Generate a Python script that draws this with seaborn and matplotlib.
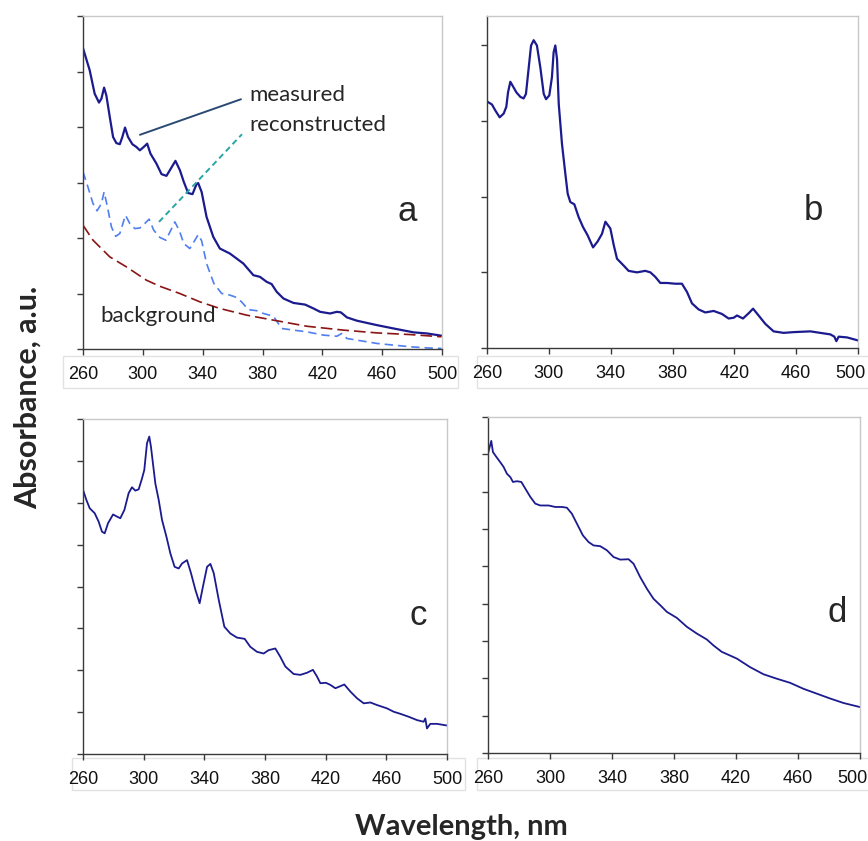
import numpy as np
import pandas as pd
import matplotlib
matplotlib.use("Agg")
import matplotlib.pyplot as plt
from matplotlib.patches import Rectangle
from matplotlib.transforms import ScaledTranslation
import seaborn as sns

# panel a: measured, reconstructed and background spectra
a_meas_nm = [260, 264.5, 267.8, 270.7, 272.3, 274.1, 275.6, 277.9, 280.1, 282.3, 284.6, 286.3,
             288.1, 290.1, 293, 295.7, 298, 300.6, 302.9, 305.1, 309.1, 312.5, 315.8, 318.7,
             321.8, 324.8, 327.4, 330.3, 333.2, 335.9, 337, 339.3, 342.6, 347.1, 351.5, 358.2,
             367.2, 373.9, 378.3, 382.8, 386.1, 389.5, 394, 400.7, 408.5, 414.1, 418.5, 425.2,
             429.7, 432.4, 436.4, 443.1, 456.5, 467.6, 481, 490, 499.6]
a_meas_abs = [5.42, 5.02, 4.6, 4.44, 4.51, 4.71, 4.57, 4.18, 3.82, 3.71, 3.69, 3.82,
              3.99, 3.82, 3.69, 3.64, 3.58, 3.64, 3.70, 3.52, 3.34, 3.15, 3.12, 3.25,
              3.39, 3.22, 3.01, 2.81, 2.79, 2.97, 2.99, 2.83, 2.38, 2.02, 1.81, 1.72,
              1.54, 1.33, 1.30, 1.21, 1.17, 1.03, 0.91, 0.83, 0.80, 0.73, 0.67, 0.64,
              0.67, 0.66, 0.57, 0.51, 0.43, 0.37, 0.30, 0.28, 0.24]

a_rec_nm = [260, 263.3, 266.7, 269.4, 272.3, 274.1, 276.1, 279, 281.9, 284.6, 288.4, 291.3,
            294.6, 298, 301.3, 304.2, 307.3, 311.4, 315.4, 318.7, 321.4, 324.3, 327.4, 331.4,
            334.8, 337, 339.3, 342.6, 347.5, 352.7, 356, 361.6, 366, 370.5, 376.1, 380.6,
            387.3, 392.8, 400.7, 409.6, 420.7, 429.7, 433, 436.4, 445.3, 456.5, 467.6, 478.8,
            490, 499.6]
a_rec_abs = [3.19, 2.92, 2.62, 2.49, 2.62, 2.83, 2.59, 2.20, 2.03, 2.08, 2.41, 2.26,
             2.17, 2.18, 2.26, 2.34, 2.14, 2.01, 1.96, 2.14, 2.29, 2.14, 1.90, 1.81,
             1.96, 2.06, 1.95, 1.54, 1.18, 1.00, 0.99, 0.94, 0.85, 0.71, 0.69, 0.64,
             0.59, 0.37, 0.34, 0.31, 0.25, 0.23, 0.28, 0.19, 0.15, 0.10, 0.07, 0.04,
             0.02, 0.01]

a_bg_nm = [260, 266.7, 277.9, 289, 302.4, 311.4, 324.7, 338.1, 351.5, 369.4, 387.3, 409.6,
           434.1, 456.5, 478.8, 499.6]
a_bg_abs = [2.23, 1.96, 1.66, 1.48, 1.24, 1.13, 1.00, 0.85, 0.73, 0.61, 0.52, 0.41,
            0.34, 0.29, 0.26, 0.22]

# panel b
b_nm = [260, 263.2, 265.4, 268.2, 270.8, 272.5, 273.6, 275.1, 276.8, 279, 281.6, 283.7,
        285.2, 287, 288.5, 290.2, 292.3, 294.5, 296.7, 298.2, 300.3, 302, 303.1, 304.2,
        305.3, 306.4, 308.5, 310.7, 312.2, 313.9, 316.5, 319.3, 322.1, 325.1, 328.6, 331.6,
        334.4, 336.6, 339.8, 342, 344.1, 348.4, 351.6, 357, 362.4, 365.7, 368.9, 372.1,
        376.4, 381.8, 386.1, 389.4, 392.6, 396.9, 401.2, 406.6, 412, 416.3, 419.6, 421.7,
        425.6, 429.3, 432.1, 435.7, 440, 445.4, 451.9, 458.4, 469.2, 475.6, 482.1, 484.7,
        486, 487.5, 492.9, 500]
b_abs = [3.26, 3.22, 3.14, 3.05, 3.10, 3.19, 3.38, 3.52, 3.46, 3.38, 3.32, 3.30,
         3.36, 3.71, 4.00, 4.07, 4.00, 3.71, 3.36, 3.29, 3.34, 3.58, 3.91, 4.00,
         3.82, 3.23, 2.70, 2.30, 2.04, 1.93, 1.90, 1.73, 1.60, 1.49, 1.33, 1.41,
         1.51, 1.67, 1.58, 1.36, 1.18, 1.09, 1.02, 1.00, 1.02, 1.00, 0.94, 0.86,
         0.86, 0.85, 0.85, 0.74, 0.59, 0.51, 0.47, 0.49, 0.45, 0.39, 0.40, 0.43,
         0.39, 0.46, 0.52, 0.43, 0.32, 0.22, 0.20, 0.21, 0.22, 0.20, 0.18, 0.15,
         0.09, 0.15, 0.14, 0.10]

# panel c
c_nm = [260, 262.2, 264.4, 267.7, 270.3, 272.5, 274.3, 276.5, 279.8, 282.4, 284.6, 287.3,
        290.1, 292.3, 294.5, 296.7, 298.9, 300.4, 302.2, 303.7, 304.8, 307.7, 309.9, 312.1,
        315, 317.6, 320.4, 323.1, 325.3, 328.6, 331.2, 334.1, 336.9, 339.1, 341.8, 344,
        346.2, 349.5, 353.2, 357.1, 361.5, 366.6, 370.3, 374.7, 379.1, 382.4, 386.8, 390.1,
        393.4, 398.9, 403.3, 407.7, 411.6, 414.3, 416.5, 420.2, 423.1, 426.4, 429.7, 432.3,
        436.3, 440.7, 445.1, 449.5, 453.8, 460.4, 464.8, 469.2, 474.7, 480.2, 484.6, 485.7,
        486.8, 489, 493.4, 500]
c_abs = [6.31, 6.07, 5.87, 5.75, 5.55, 5.31, 5.27, 5.51, 5.72, 5.67, 5.63, 5.83,
         6.23, 6.37, 6.29, 6.32, 6.58, 6.78, 7.42, 7.58, 7.34, 6.46, 6.07, 5.59,
         5.19, 4.79, 4.47, 4.43, 4.55, 4.63, 4.32, 3.92, 3.60, 4.00, 4.47, 4.54,
         4.32, 3.68, 3.04, 2.88, 2.78, 2.75, 2.56, 2.44, 2.40, 2.48, 2.52, 2.32,
         2.09, 1.91, 1.89, 1.94, 2.01, 1.85, 1.69, 1.70, 1.65, 1.57, 1.62, 1.66,
         1.49, 1.33, 1.21, 1.23, 1.17, 1.09, 1.01, 0.96, 0.89, 0.81, 0.77, 0.85,
         0.61, 0.72, 0.72, 0.68]

# panel d
d_nm = [260, 261.1, 262.1, 263.2, 265.4, 267.9, 270.1, 272.2, 274.4, 276.1, 278.7, 281.5,
        284.1, 287.3, 290.5, 293.7, 299.1, 303.4, 307.7, 310.9, 314.1, 317.4, 321.2, 324.9,
        328.1, 332.4, 336.7, 341, 345.3, 350.7, 353.9, 358.2, 362.5, 366.8, 371.1, 375.4,
        381.8, 388.3, 394.7, 401.2, 405.5, 410.8, 420.5, 429.1, 437.7, 446.3, 454.9, 463.5,
        472.1, 480.7, 489.3, 500]
d_abs = [8.02, 8.20, 8.36, 8.06, 7.93, 7.79, 7.66, 7.48, 7.39, 7.26, 7.28, 7.26,
         7.08, 6.86, 6.68, 6.63, 6.63, 6.59, 6.59, 6.57, 6.41, 6.14, 5.83, 5.65,
         5.56, 5.54, 5.43, 5.25, 5.18, 5.19, 5.07, 4.71, 4.40, 4.13, 3.96, 3.78,
         3.62, 3.38, 3.20, 3.04, 2.88, 2.71, 2.53, 2.30, 2.11, 1.99, 1.88, 1.72,
         1.59, 1.46, 1.34, 1.23]

x_ticks = [260, 300, 340, 380, 420, 460, 500]

NAVY = "#1b1b8f"
LABEL_FONT = ["Lato", "DejaVu Sans"]

sns.set_style("white")
plt.rcParams['font.family'] = ['Liberation Sans', 'DejaVu Sans']

fig = plt.figure(figsize=(8.68, 8.41), dpi=100)
W, H = 868, 841


def px_axes(left, top, right, bottom):
    ax = fig.add_axes([left / W, 1 - bottom / H, (right - left) / W, (bottom - top) / H])
    ax.set_zorder(2)
    return ax


def tick_box(left, top, right, bottom):
    # white strip with a faint border behind the wavelength labels
    fig.patches.append(Rectangle((left / W, 1 - bottom / H), (right - left) / W, (bottom - top) / H,
                                 transform=fig.transFigure, facecolor="white",
                                 edgecolor="#e2e2e2", lw=1.0, zorder=-1))


def style_axes(ax, ymax, nticks, pull_last=False):
    ax.set_xlim(260, 500)
    ax.set_ylim(0, ymax)
    ax.set_xticks(x_ticks)
    ax.set_xticklabels([str(t) for t in x_ticks])
    ax.set_yticks(range(nticks + 1))
    ax.set_yticklabels([])
    ax.set_xlabel("")
    ax.set_ylabel("")
    for side in ["left", "bottom"]:
        ax.spines[side].set_color("#3a3a3a")
        ax.spines[side].set_linewidth(1.0)
    for side in ["top", "right"]:
        ax.spines[side].set_color("#c8c8c8")
        ax.spines[side].set_linewidth(1.0)
    ax.tick_params(axis="both", direction="out", length=4, width=1, color="#3a3a3a",
                   left=True, bottom=True)
    ax.tick_params(axis="x", labelsize=13, pad=8, labelcolor="#111111")
    ax.patch.set_alpha(0)
    if pull_last:
        # keep the last label inside the figure edge
        lab = ax.get_xticklabels()[-1]
        lab.set_horizontalalignment("right")
        lab.set_transform(lab.get_transform() + ScaledTranslation(0.08, 0, fig.dpi_scale_trans))


tick_box(63, 356, 458, 388)
tick_box(477, 356, 870, 388)
tick_box(72, 758, 465, 790)
tick_box(477, 758, 870, 790)

# --- panel a
ax_a = px_axes(83, 16, 442, 349)
sns.lineplot(x=a_meas_nm, y=a_meas_abs, ax=ax_a, color=NAVY, lw=1.6)
sns.lineplot(x=a_rec_nm, y=a_rec_abs, ax=ax_a, color="#4f7ff0", lw=1.2)
ax_a.lines[-1].set_dashes((5, 3))
sns.lineplot(x=a_bg_nm, y=a_bg_abs, ax=ax_a, color="#8b1414", lw=1.2)
ax_a.lines[-1].set_dashes((7, 3))
style_axes(ax_a, 6, 6)
ax_a.plot([298.1, 365.6], [3.86, 4.50], color="#2b4a72", lw=1.4)
ax_a.plot([310.8, 366.3], [2.29, 3.87], color="#2aa5a5", lw=1.4, dashes=(3, 2))
ax_a.text(371, 4.58, "measured", fontsize=16, family=LABEL_FONT, va="center")
ax_a.text(371, 4.04, "reconstructed", fontsize=16, family=LABEL_FONT, va="center")
ax_a.text(271.4, 0.59, "background", fontsize=16, family=LABEL_FONT, va="center")
ax_a.text(477, 2.48, "a", fontsize=25, ha="center", va="center")

# --- panel b
ax_b = px_axes(487, 16, 858, 348)
sns.lineplot(x=b_nm, y=b_abs, ax=ax_b, color=NAVY, lw=1.6)
style_axes(ax_b, 4.39, 4, pull_last=True)
ax_b.text(471, 1.82, "b", fontsize=25, ha="center", va="center")

# --- panel c
ax_c = px_axes(83, 419, 447, 754)
sns.lineplot(x=c_nm, y=c_abs, ax=ax_c, color=NAVY, lw=1.3)
style_axes(ax_c, 8, 8)
ax_c.text(481, 3.3, "c", fontsize=25, ha="center", va="center")

# --- panel d
ax_d = px_axes(488, 417, 860, 753)
sns.lineplot(x=d_nm, y=d_abs, ax=ax_d, color=NAVY, lw=1.3)
style_axes(ax_d, 9, 9, pull_last=True)
ax_d.text(485, 3.75, "d", fontsize=25, ha="center", va="center")

fig.text(461 / W, 1 - 827 / H, "Wavelength, nm", fontsize=21, fontweight="bold",
         family=LABEL_FONT, ha="center", va="center")
fig.text(28 / W, 1 - 397 / H, "Absorbance, a.u.", fontsize=22, fontweight="bold",
         family=LABEL_FONT, ha="center", va="center", rotation=90)

fig.savefig("out.png", dpi=100)
